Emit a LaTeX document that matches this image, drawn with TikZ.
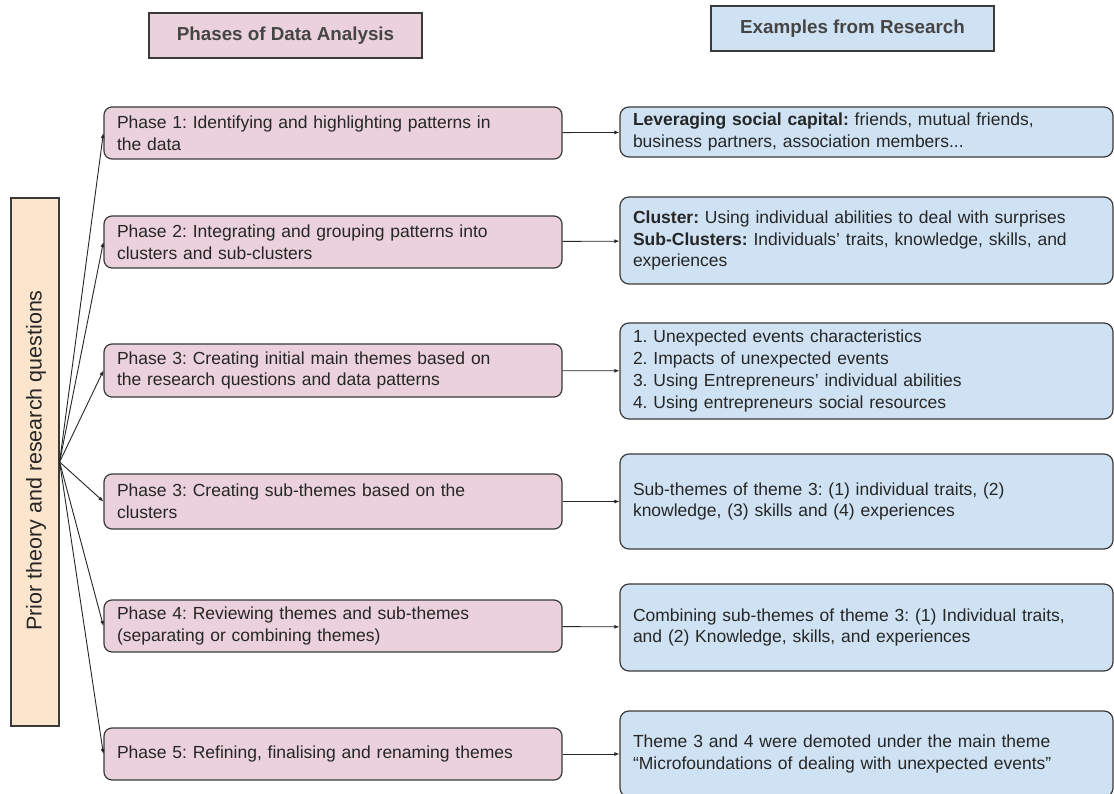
\documentclass[tikz,border=0pt]{standalone}
\usepackage{fontspec}
\setmainfont{Liberation Sans}
\usetikzlibrary{arrows.meta}
\definecolor{pinkf}{HTML}{EAD1DC}
\definecolor{bluef}{HTML}{CFE2F3}
\definecolor{orangef}{HTML}{FCE5CD}
\definecolor{edgec}{HTML}{3A3A3A}
\definecolor{txtc}{HTML}{262626}
\definecolor{htxtc}{HTML}{454545}
\begin{document}
\frenchspacing
\begin{tikzpicture}[x=1pt,y=-1pt,
  bodyfont/.style={font=\fontsize{17.5}{21.8}\selectfont\frenchspacing, text=txtc},
  phasebox/.style={draw=edgec, fill=pinkf, rounded corners=8pt, line width=1.2pt,
    bodyfont, inner xsep=13pt, inner ysep=0pt, text width=432pt, align=left,
    minimum width=458pt},
  exbox/.style={draw=edgec, fill=bluef, rounded corners=9pt, line width=1.2pt,
    bodyfont, inner xsep=13pt, inner ysep=0pt, text width=467pt, align=left,
    minimum width=493pt},
  headbox/.style={draw=edgec, line width=1.2pt, minimum height=45pt, inner sep=0pt,
    font=\fontsize{18.8}{22}\selectfont\bfseries, text=htxtc},
  conn/.style={draw=black!85, line width=0.9pt, -{Latex[length=5pt,width=4pt]}}
]
\useasboundingbox (0,0) rectangle (1114,794);
\fill[white] (0,0) rectangle (1114,794);
\clip (0,0) rectangle (1114,794);

% headers
\node[headbox, fill=pinkf, minimum width=273pt] (h1) at (285.5,35.5) {Phases of Data Analysis};
\node[headbox, fill=bluef, minimum width=283pt] (h2) at (852.5,28.5) {Examples from Research};

% left box
\node[draw=edgec, fill=orangef, line width=1.2pt, minimum width=48pt, minimum height=528pt, inner sep=0pt] (lb) at (35,462) {};
\node[rotate=90, font=\fontsize{21.5}{25}\selectfont, text=txtc] (lbt) at (36,460.5) {Prior theory and research questions};

% phase boxes
\node[phasebox, minimum height=52pt] (p1) at (333,133) {Phase 1: Identifying and highlighting patterns in\\the data};
\node[phasebox, minimum height=52pt] (p2) at (333,242) {Phase 2: Integrating and grouping patterns into\\clusters and sub-clusters};
\node[phasebox, minimum height=53pt] (p3) at (333,370.5) {Phase 3: Creating initial main themes based on\\the research questions and data patterns};
\node[phasebox, minimum height=55pt] (p3b) at (333,501.5) {Phase 3: Creating sub-themes based on the\\clusters};
\node[phasebox, minimum height=52pt] (p4) at (333,626) {Phase 4: Reviewing themes and sub-themes\\(separating or combining themes)};
\node[phasebox, minimum height=52pt] (p5) at (333,754) {Phase 5: Refining, finalising and renaming themes};

% example boxes
\node[exbox, minimum height=50pt] (b1) at (866.5,132) {\textbf{Leveraging social capital:} friends, mutual friends,\\business partners, association members...};
\node[exbox, minimum height=87pt] (b2) at (866.5,240.5) {\textbf{Cluster:} Using individual abilities to deal with surprises\\\textbf{Sub-Clusters:} Individuals’ traits, knowledge, skills, and\\experiences};
\node[exbox, minimum height=96pt] (b3) at (866.5,371) {1. Unexpected events characteristics\\2. Impacts of unexpected events\\3. Using Entrepreneurs’ individual abilities\\4. Using entrepreneurs social resources};
\node[exbox, minimum height=95pt] (b4) at (866.5,501.5) {Sub-themes of theme 3: (1) individual traits, (2)\\knowledge, (3) skills and (4) experiences};
\node[exbox, minimum height=87pt] (b5) at (866.5,627.5) {Combining sub-themes of theme 3: (1) Individual traits,\\and (2) Knowledge, skills, and experiences};
\node[exbox, minimum height=86pt] (b6) at (866.5,754) {Theme 3 and 4 were demoted under the main theme\\“Microfoundations of dealing with unexpected events”};

% connectors from left box
\foreach \p in {p1,p2,p3,p3b,p4,p5}
  \draw[conn] (lb.east) -- (\p.west);

% phase -> example
\draw[conn] (p1) -- (b1);
\draw[conn] (p2) -- (b2);
\draw[conn] (p3) -- (b3);
\draw[conn] (p3b) -- (b4);
\draw[conn] (p4) -- (b5);
\draw[conn] (p5) -- (b6);
\end{tikzpicture}
\end{document}
